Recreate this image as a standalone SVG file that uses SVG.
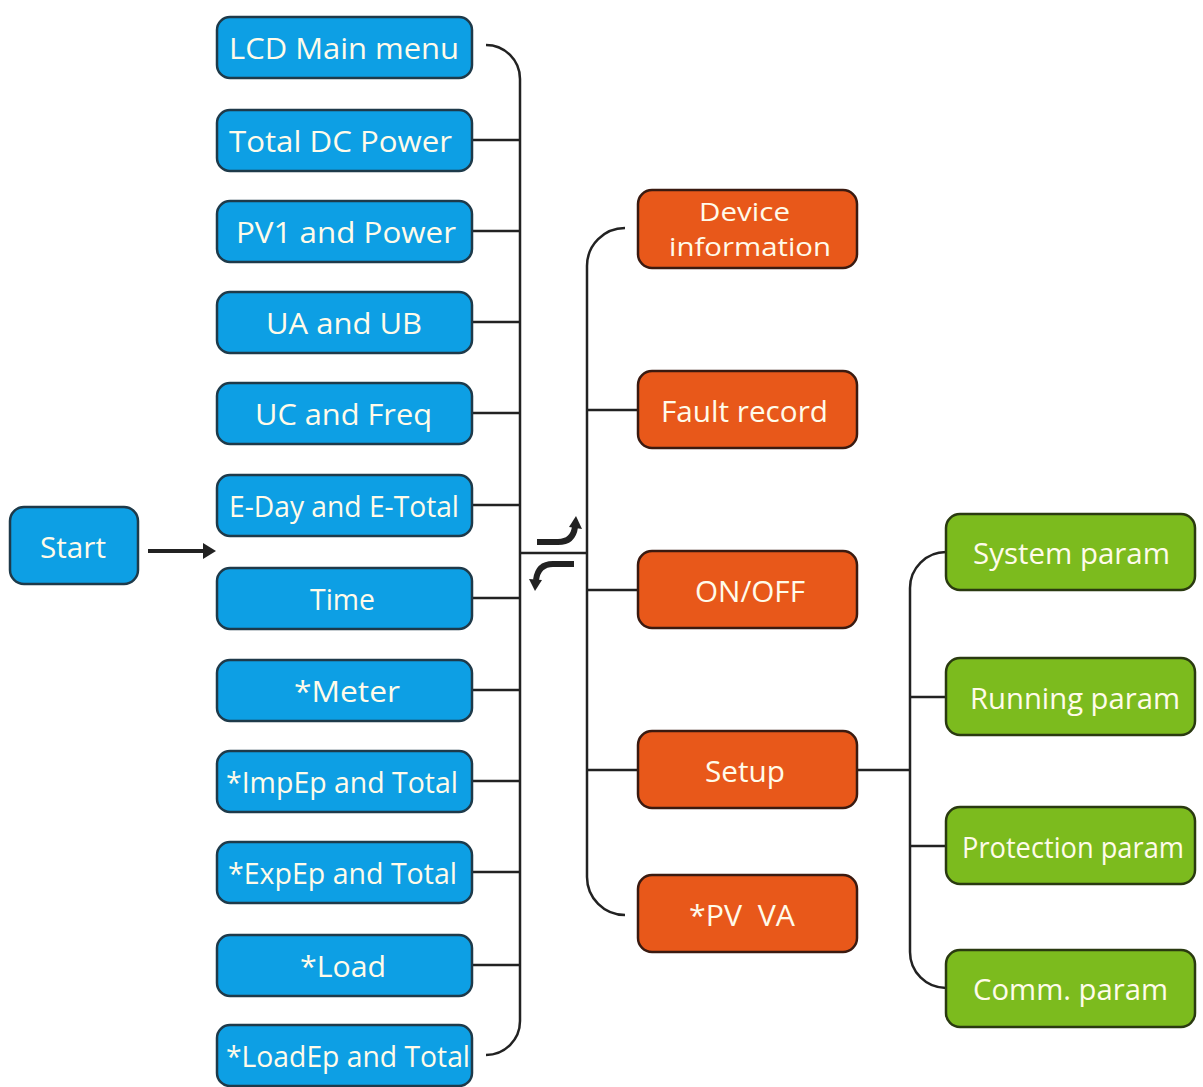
<svg xmlns="http://www.w3.org/2000/svg" width="1203" height="1087" viewBox="0 0 1203 1087">
<defs>
<style>
.b rect{fill:#0d9fe4;stroke:#1e3a4a;stroke-width:2.5}
.o rect{fill:#e8581a;stroke:#3a1a10;stroke-width:2.5}
.g rect{fill:#7cbb1e;stroke:#2a3a10;stroke-width:2.5}
text{font-family:"Open Sans","Noto Sans",sans-serif;fill:#fffbea;text-anchor:middle;dominant-baseline:central}
.t{font-size:29px}
.s{font-size:25px}
.c path,.c line{stroke:#222;stroke-width:2.5;fill:none}
</style>
</defs>
<rect width="1203" height="1087" fill="#fff"/>
<g class="c" id="connectors">
<path d="M486,45 A34,34 0 0 1 520,79 V1021 A34,34 0 0 1 486,1055"/>
<line x1="472" y1="140" x2="520" y2="140"/>
<line x1="472" y1="231" x2="520" y2="231"/>
<line x1="472" y1="322" x2="520" y2="322"/>
<line x1="472" y1="413" x2="520" y2="413"/>
<line x1="472" y1="505" x2="520" y2="505"/>
<line x1="472" y1="598" x2="520" y2="598"/>
<line x1="472" y1="690" x2="520" y2="690"/>
<line x1="472" y1="781" x2="520" y2="781"/>
<line x1="472" y1="872" x2="520" y2="872"/>
<line x1="472" y1="965" x2="520" y2="965"/>
<line x1="520" y1="553" x2="587" y2="553"/>
<path d="M625,228 A38,38 0 0 0 587,266 V877 A38,38 0 0 0 625,915"/>
<line x1="587" y1="410" x2="638" y2="410"/>
<line x1="587" y1="590" x2="638" y2="590"/>
<line x1="587" y1="770" x2="638" y2="770"/>
<line x1="857" y1="770" x2="910" y2="770"/>
<path d="M946,552 A36,36 0 0 0 910,588 V952 A36,36 0 0 0 946,988"/>
<line x1="910" y1="697" x2="946" y2="697"/>
<line x1="910" y1="846" x2="946" y2="846"/>
<path d="M148,551 H205" style="stroke-width:4"/>
<path d="M203,543 L216,551 L203,559 z" style="fill:#222;stroke:none"/>
<path d="M537,542 H558 Q573,542 575,527" style="stroke-width:6"/>
<path d="M569,527 L576,516 L582,529 z" style="fill:#222;stroke:none"/>
<path d="M574,564 H553 Q538,564 536,580" style="stroke-width:6"/>
<path d="M529,579 L535,591 L542,580 z" style="fill:#222;stroke:none"/>
</g>
<g class="b" id="start"><rect x="10" y="507" width="128" height="77" rx="14"/><text class="t" x="73" y="546" textLength="66" lengthAdjust="spacingAndGlyphs">Start</text></g>
<g class="b" id="n1"><rect x="217" y="17" width="255" height="61" rx="13"/><text class="t" x="344" y="47" textLength="230" lengthAdjust="spacingAndGlyphs">LCD Main menu</text></g>
<g class="b" id="n2"><rect x="217" y="110" width="255" height="61" rx="13"/><text class="t" x="340.5" y="140" textLength="223" lengthAdjust="spacingAndGlyphs">Total DC Power</text></g>
<g class="b" id="n3"><rect x="217" y="201" width="255" height="61" rx="13"/><text class="t" x="346" y="231" textLength="220" lengthAdjust="spacingAndGlyphs">PV1 and Power</text></g>
<g class="b" id="n4"><rect x="217" y="292" width="255" height="61" rx="13"/><text class="t" x="344" y="322" textLength="156" lengthAdjust="spacingAndGlyphs">UA and UB</text></g>
<g class="b" id="n5"><rect x="217" y="383" width="255" height="61" rx="13"/><text class="t" x="343.5" y="413" textLength="177" lengthAdjust="spacingAndGlyphs">UC and Freq</text></g>
<g class="b" id="n6"><rect x="217" y="475" width="255" height="61" rx="13"/><text class="t" x="344" y="505" textLength="230" lengthAdjust="spacingAndGlyphs">E-Day and E-Total</text></g>
<g class="b" id="n7"><rect x="217" y="568" width="255" height="61" rx="13"/><text class="t" x="342.5" y="598" textLength="65" lengthAdjust="spacingAndGlyphs">Time</text></g>
<g class="b" id="n8"><rect x="217" y="660" width="255" height="61" rx="13"/><text class="t" x="347" y="690" textLength="106" lengthAdjust="spacingAndGlyphs">*Meter</text></g>
<g class="b" id="n9"><rect x="217" y="751" width="255" height="61" rx="13"/><text class="t" x="342" y="781" textLength="232" lengthAdjust="spacingAndGlyphs">*ImpEp and Total</text></g>
<g class="b" id="n10"><rect x="217" y="842" width="255" height="61" rx="13"/><text class="t" x="342.5" y="872" textLength="229" lengthAdjust="spacingAndGlyphs">*ExpEp and Total</text></g>
<g class="b" id="n11"><rect x="217" y="935" width="255" height="61" rx="13"/><text class="t" x="343" y="965" textLength="86" lengthAdjust="spacingAndGlyphs">*Load</text></g>
<g class="b" id="n12"><rect x="217" y="1025" width="255" height="61" rx="13"/><text class="t" x="348" y="1055" textLength="244" lengthAdjust="spacingAndGlyphs">*LoadEp and Total</text></g>
<g class="o" id="dev"><rect x="638" y="190" width="219" height="78" rx="14"/><text class="s" x="744.5" y="211" textLength="91" lengthAdjust="spacingAndGlyphs">Device</text><text class="s" x="750" y="246" textLength="162" lengthAdjust="spacingAndGlyphs">information</text></g>
<g class="o" id="fault"><rect x="638" y="371" width="219" height="77" rx="14"/><text class="t" x="744.5" y="410" textLength="167" lengthAdjust="spacingAndGlyphs">Fault record</text></g>
<g class="o" id="onoff"><rect x="638" y="551" width="219" height="77" rx="14"/><text class="t" x="750" y="590" textLength="110" lengthAdjust="spacingAndGlyphs">ON/OFF</text></g>
<g class="o" id="setup"><rect x="638" y="731" width="219" height="77" rx="14"/><text class="t" x="745" y="770" textLength="80" lengthAdjust="spacingAndGlyphs">Setup</text></g>
<g class="o" id="pvva"><rect x="638" y="875" width="219" height="77" rx="14"/><text class="t" x="742" y="914" xml:space="preserve" textLength="106" lengthAdjust="spacingAndGlyphs">*PV  VA</text></g>
<g class="g" id="sys"><rect x="946" y="514" width="249" height="76" rx="14"/><text class="t" x="1071.5" y="552" textLength="197" lengthAdjust="spacingAndGlyphs">System param</text></g>
<g class="g" id="run"><rect x="946" y="658" width="249" height="77" rx="14"/><text class="t" x="1075" y="697" textLength="210" lengthAdjust="spacingAndGlyphs">Running param</text></g>
<g class="g" id="prot"><rect x="946" y="807" width="249" height="77" rx="14"/><text class="t" x="1073" y="846" textLength="222" lengthAdjust="spacingAndGlyphs">Protection param</text></g>
<g class="g" id="comm"><rect x="946" y="950" width="249" height="77" rx="14"/><text class="t" x="1070.5" y="988" textLength="195" lengthAdjust="spacingAndGlyphs">Comm. param</text></g>
</svg>
